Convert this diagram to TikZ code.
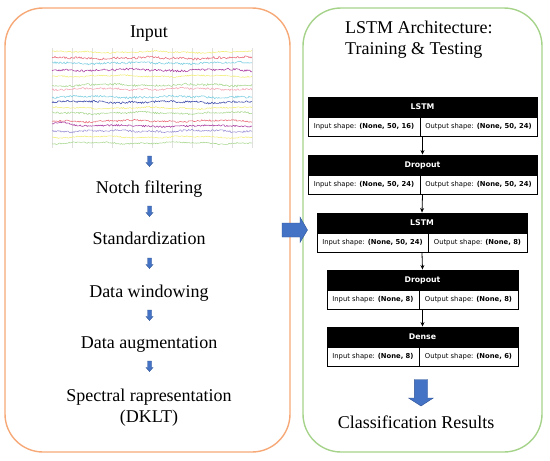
\documentclass[tikz,border=0pt]{standalone}
\usepackage{fontspec}
\setmainfont{Liberation Serif}
\newfontfamily\dejavu{DejaVu Sans}
\usetikzlibrary{fit,arrows.meta}
\definecolor{boxorange}{HTML}{F6A877}
\definecolor{boxgreen}{HTML}{A6D38A}
\definecolor{arrblue}{HTML}{4472C4}
\definecolor{arredge}{HTML}{2F5597}
\definecolor{eyellow}{HTML}{F2EE7A}
\definecolor{ered}{HTML}{E86A78}
\definecolor{ecyan}{HTML}{7CCFE2}
\definecolor{emagenta}{HTML}{A8389E}
\definecolor{egreen}{HTML}{A9D88F}
\definecolor{epink}{HTML}{F2A3B2}
\definecolor{eblue}{HTML}{3A48AA}
\definecolor{elav}{HTML}{9A92D6}
\tikzset{
  panel/.style={draw, line width=1.4pt, rounded corners=38pt, inner sep=0pt},
  maintext/.style={font=\fontsize{18}{21}\selectfont, inner sep=0pt, anchor=base},
  hdr/.style={font=\dejavu\bfseries\fontsize{7.8}{8.5}\selectfont, text=white, inner sep=0pt},
  cell/.style={font=\dejavu\fontsize{6.8}{7.8}\selectfont, inner sep=0pt},
  blkframe/.style={draw=black, line width=0.9pt, inner sep=0pt},
  flow/.style={draw=black, line width=0.8pt, -{Stealth[length=4.5pt,width=4pt]}},
  blockarrow/.style={fill=arrblue, draw=arredge, line width=0.4pt},
  trace/.style={line width=0.55pt}
}
\newcommand{\nnblock}[8]{%
  \fill[black] (#2,#4) rectangle (#3,#4+20);
  \node[blkframe, fit={(#2,#4) (#3,#4+39.5)}] (#1) {};
  \draw[line width=0.8pt] (#2,#4+20) -- (#3,#4+20);
  \draw[line width=0.8pt] (#5,#4+20) -- (#5,#4+39.5);
  \node[hdr] at ({(#2+#3)/2},#4+10) {#6};
  \node[cell] at ({(#2+#5)/2},#4+29.75) {Input shape: \textbf{#7}};
  \node[cell] at ({(#5+#3)/2},#4+29.75) {Output shape: \textbf{#8}};
}
\newcommand{\smalldown}[2]{% x, top
  \path[blockarrow] (#1-2,#2) -- (#1+2,#2) -- (#1+2,#2+6.5) -- (#1+3.5,#2+6.5)
    -- (#1,#2+10.5) -- (#1-3.5,#2+6.5) -- (#1-2,#2+6.5) -- cycle;
}
\begin{document}
\begin{tikzpicture}[x=1pt,y=-1pt]
\useasboundingbox (0,0) rectangle (550,461);
\fill[white] (0,0) rectangle (550,461);

% panels
\node[panel, draw=boxorange, fit={(5,8) (290,452)}] (lbox) {};
\node[panel, draw=boxgreen, fit={(303,8) (542,452)}] (rbox) {};

% left panel texts
\node[maintext] (input) at (149,37) {Input};

% EEG picture
\foreach \gx in {52,72,...,252} {
  \draw[black!12, line width=0.4pt] (\gx,48) -- (\gx,148);
}
\pgfmathsetseed{7}
\foreach \yy/\cc/\aa/\ph in {52/eyellow/0.6/10, 58/ered/1.1/40, 63/ecyan/1.0/80,
  70/emagenta/1.1/120, 76/eyellow/0.6/160, 85/egreen/1.0/200, 89/epink/0.9/240,
  97/ecyan/1.0/280, 102/eblue/1.0/320, 108/eyellow/0.6/30, 113/egreen/0.8/70,
  121/ered/0.8/110, 131/elav/0.9/190, 137/eyellow/0.5/230, 143/egreen/0.6/270} {
  \draw[trace, \cc] plot[domain=52:252, samples=200]
    (\x, {\yy + \aa*rand + 0.7*sin(\x*4+\ph) + 0.4*sin(\x*11+2*\ph)});
}
\draw[trace, emagenta] plot[domain=52:252, samples=200]
  (\x, {126 + 0.8*rand - 4.5/(1+((\x-62)/9)^2) + 0.7*sin(\x*4+150)});

\node[maintext] (notch) at (149,193) {Notch filtering};
\node[maintext] (std) at (149,244) {Standardization};
\node[maintext] (win) at (149,297) {Data windowing};
\node[maintext] (aug) at (149,348) {Data augmentation};
\node[maintext] (spec) at (149,401) {Spectral rapresentation};
\node[maintext] (dklt) at (149,422) {(DKLT)};

\smalldown{149.5}{156}
\smalldown{149.5}{206}
\smalldown{149.5}{258}
\smalldown{149.5}{310}
\smalldown{149.5}{361}

% right panel title
\node[maintext, anchor=base west] (title1) at (345,33) {LSTM Architecture:};
\node[maintext, anchor=base west] (title2) at (345,54) {Training \& Testing};

% network blocks
\nnblock{b1}{308}{537}{97}{420}{LSTM}{(None, 50, 16)}{(None, 50, 24)}
\nnblock{b2}{308}{537}{155}{420}{Dropout}{(None, 50, 24)}{(None, 50, 24)}
\nnblock{b3}{317}{527}{213}{428}{LSTM}{(None, 50, 24)}{(None, 8)}
\nnblock{b4}{327}{518}{270}{419}{Dropout}{(None, 8)}{(None, 8)}
\nnblock{b5}{327}{518}{327}{419}{Dense}{(None, 8)}{(None, 6)}

\draw[flow] (b1.south) -- (b2.north);
\draw[flow] (b2.south) -- (b3.north);
\draw[flow] (b3.south) -- (b4.north);
\draw[flow] (b4.south) -- (b5.north);

% big arrows
\path[blockarrow] (414.3,379.5) -- (427.7,379.5) -- (427.7,398) -- (433.3,398)
  -- (421,406) -- (408.5,398) -- (414.3,398) -- cycle;
\path[blockarrow] (282,223) -- (300,223) -- (300,217) -- (307.5,230)
  -- (300,242.5) -- (300,237) -- (282,237) -- cycle;

\node[maintext] (result) at (416,428) {Classification Results};
\end{tikzpicture}
\end{document}
